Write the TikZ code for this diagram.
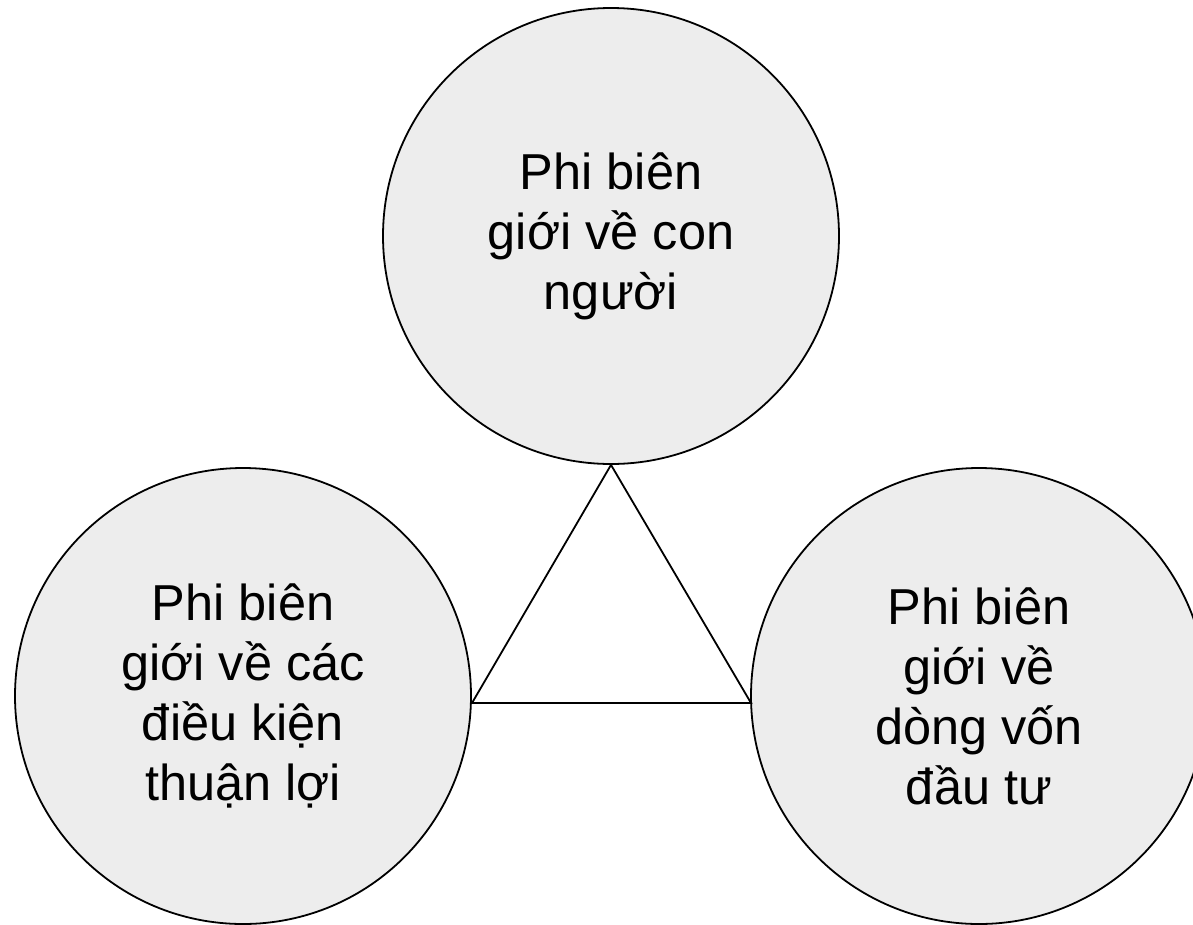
\documentclass[tikz,border=0pt]{standalone}
\usepackage{fontspec}
\setmainfont{Liberation Sans}
\begin{document}
\begin{tikzpicture}[x=1pt,y=-1pt,
  bubble/.style={circle, draw=black, line width=1.8pt, fill=black!7,
    minimum size=456pt, inner sep=0pt, align=center,
    font=\fontsize{50.5}{60}\selectfont},
  edge/.style={draw=black, line width=1.8pt, line join=miter}]
  \useasboundingbox (0,0) rectangle (1193,924);
  % the three circles
  \node[bubble] (people) at (611,236) {Phi biên\\giới về con\\người};
  \node[bubble] (cond) at (243,696) {Phi biên\\giới về các\\điều kiện\\thuận lợi};
  \node[bubble] (capital) at (979,696) {Phi biên\\giới về\\dòng vốn\\đầu tư};
  % corners of the linking triangle
  \coordinate (tl) at (472,703);
  \coordinate (tr) at (751,703);
  \draw[edge] (people.south) -- (tl) -- (tr) -- cycle;
\end{tikzpicture}
\end{document}
